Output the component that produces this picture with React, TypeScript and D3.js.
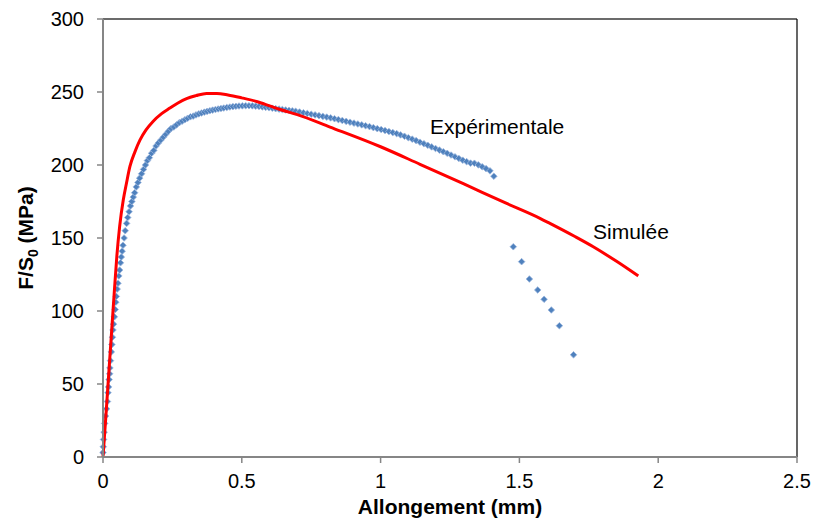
import React from "react";
import * as d3 from "d3";

const xTicks = [0, 0.5, 1, 1.5, 2, 2.5];
const yTicks = [0, 50, 100, 150, 200, 250, 300];

const simX = [0, 0.01, 0.02, 0.03, 0.04, 0.05, 0.06, 0.073, 0.085, 0.097, 0.115, 0.133, 0.155, 0.181, 0.21, 0.241, 0.27, 0.301, 0.335, 0.373, 0.41, 0.45, 0.5, 0.553, 0.6, 0.638, 0.7, 0.818, 1.0, 1.142, 1.3, 1.45, 1.574, 1.61, 1.7, 1.766, 1.85, 1.928];
const simY = [0, 27, 55, 83, 111, 138, 158, 176, 188, 199, 209, 217, 224, 230, 235, 239, 242.5, 245.5, 247.5, 249, 249, 248, 246, 243.5, 240.5, 238, 234.5, 226, 212.5, 200.5, 187, 174, 163.5, 160, 151, 144, 134, 124];

const expX = [0.000, 0.001, 0.002, 0.004, 0.006, 0.009, 0.013, 0.016, 0.018, 0.020, 0.022, 0.024, 0.025, 0.027, 0.030, 0.032, 0.034, 0.036, 0.038, 0.041, 0.044, 0.046, 0.048, 0.051, 0.054, 0.057, 0.060, 0.063, 0.066, 0.069, 0.072, 0.076, 0.080, 0.085, 0.089, 0.094, 0.099, 0.104, 0.109, 0.114, 0.120, 0.126, 0.132, 0.139, 0.146, 0.153, 0.160, 0.167, 0.175, 0.183, 0.191, 0.199, 0.208, 0.217, 0.226, 0.235, 0.245, 0.255, 0.265, 0.275, 0.285, 0.295, 0.305, 0.315, 0.325, 0.335, 0.345, 0.355, 0.365, 0.375, 0.385, 0.395, 0.405, 0.415, 0.425, 0.435, 0.446, 0.457, 0.468, 0.479, 0.490, 0.502, 0.514, 0.526, 0.538, 0.550, 0.562, 0.574, 0.586, 0.598, 0.610, 0.622, 0.634, 0.646, 0.658, 0.670, 0.682, 0.694, 0.708, 0.722, 0.736, 0.750, 0.764, 0.778, 0.792, 0.806, 0.820, 0.834, 0.848, 0.862, 0.876, 0.890, 0.904, 0.918, 0.932, 0.946, 0.960, 0.974, 0.988, 1.002, 1.016, 1.030, 1.044, 1.058, 1.072, 1.086, 1.100, 1.114, 1.128, 1.142, 1.156, 1.170, 1.184, 1.198, 1.212, 1.226, 1.240, 1.254, 1.268, 1.282, 1.296, 1.310, 1.324, 1.338, 1.352, 1.366, 1.380, 1.394, 1.408, 1.478, 1.508, 1.536, 1.566, 1.589, 1.615, 1.644, 1.695];
const expY = [3, 7, 12, 17, 23, 28, 33, 38, 44, 48, 53, 57, 61, 66, 72, 77, 82, 87, 91, 96, 101, 106, 110, 115, 119, 124, 128, 133, 137, 141, 145, 150, 155, 160, 164, 168, 172, 175, 178, 181, 185, 188, 191, 194, 197, 200, 203, 205, 208, 210, 213, 215, 217, 219, 221, 223, 225, 226, 227.5, 229, 230, 231, 232, 233, 233.5, 234.3, 235, 235.6, 236.2, 236.7, 237.2, 237.6, 238, 238.4, 238.7, 239, 239.4, 239.7, 240, 240.2, 240.4, 240.5, 240.6, 240.6, 240.5, 240.3, 240.1, 239.8, 239.5, 239.2, 238.9, 238.6, 238.3, 238.0, 237.7, 237.4, 237.1, 236.8, 236.3, 235.8, 235.3, 234.8, 234.3, 233.8, 233.3, 232.8, 232.3, 231.7, 231.1, 230.5, 229.9, 229.3, 228.7, 228.1, 227.5, 226.9, 226.3, 225.6, 224.9, 224.3, 223.6, 222.9, 222.2, 221.5, 220.6, 219.7, 218.7, 217.7, 216.7, 215.6, 214.6, 213.5, 212.4, 211.3, 210.2, 209.1, 208.0, 206.8, 205.6, 204.5, 203.3, 202.3, 201.3, 201.2, 200.1, 198.8, 197.5, 196.0, 192.3, 144, 133.8, 121.9, 114.4, 108, 100.7, 89.9, 70];

const W = 814;
const H = 526;
const left = 103, right = 797, top = 19, bottom = 457;
const FONT = "'Liberation Sans', Arial, sans-serif";

export default function App() {
  const x = d3.scaleLinear().domain([0, 2.5]).range([left, right]);
  const y = d3.scaleLinear().domain([0, 300]).range([bottom, top]);
  const simData = simX.map((v, i) => [v, simY[i]] as [number, number]);
  const expData = expX.map((v, i) => [v, expY[i]] as [number, number]);
  const line = d3
    .line<[number, number]>()
    .x((d) => x(d[0]))
    .y((d) => y(d[1]))
    .curve(d3.curveMonotoneX);
  const r = 3.3;
  const diamond = `M0,${-r}L${r},0L0,${r}L${-r},0Z`;

  return (
    <svg
      width={W}
      height={H}
      style={{ position: "absolute", left: 0, top: 0, background: "#fff" }}
      fontFamily={FONT}
    >
      <rect x={0} y={0} width={W} height={H} fill="#fff" />
      <line x1={left} x2={right} y1={top} y2={top} stroke="#3a3a3a" strokeWidth={1.5} />
      <line x1={right} x2={right} y1={top} y2={bottom} stroke="#000" strokeWidth={1.2} />
      <g>
        {expData.map((d, i) => (
          <path
            key={i}
            d={diamond}
            transform={`translate(${x(d[0])},${y(d[1])})`}
            fill="#4F81BD"
            stroke="#9DB7DE"
            strokeWidth={0.8}
          />
        ))}
      </g>
      <path d={line(simData) as string} fill="none" stroke="#FF0000" strokeWidth={3} strokeLinejoin="round" />
      <line x1={left} x2={left} y1={top} y2={bottom} stroke="#868686" strokeWidth={2} />
      <line x1={left} x2={right} y1={bottom} y2={bottom} stroke="#868686" strokeWidth={2} />
      {yTicks.map((t) => (
        <g key={"y" + t}>
          <line x1={left - 6} x2={left} y1={y(t)} y2={y(t)} stroke="#868686" strokeWidth={1.5} />
          <text x={84} y={y(t)} dy="0.35em" textAnchor="end" fontSize={20} fill="#000">
            {t}
          </text>
        </g>
      ))}
      {xTicks.map((t) => (
        <g key={"x" + t}>
          <line x1={x(t)} x2={x(t)} y1={bottom} y2={bottom + 6} stroke="#868686" strokeWidth={1.5} />
          <text x={x(t)} y={488} textAnchor="middle" fontSize={20} fill="#000">
            {t}
          </text>
        </g>
      ))}
      <text x={(left + right) / 2} y={514} textAnchor="middle" fontSize={21} fontWeight="bold" fill="#000">
        Allongement (mm)
      </text>
      <text
        transform={`translate(33,${(top + bottom) / 2}) rotate(-90)`}
        textAnchor="middle"
        fontSize={21}
        fontWeight="bold"
        fill="#000"
      >
        F/S<tspan fontSize={14} dy={5}>0</tspan>
        <tspan dy={-5}> (MPa)</tspan>
      </text>
      <text x={430} y={134} fontSize={21} fill="#000">
        Expérimentale
      </text>
      <text x={593} y={239} fontSize={21} fill="#000">
        Simulée
      </text>
    </svg>
  );
}
